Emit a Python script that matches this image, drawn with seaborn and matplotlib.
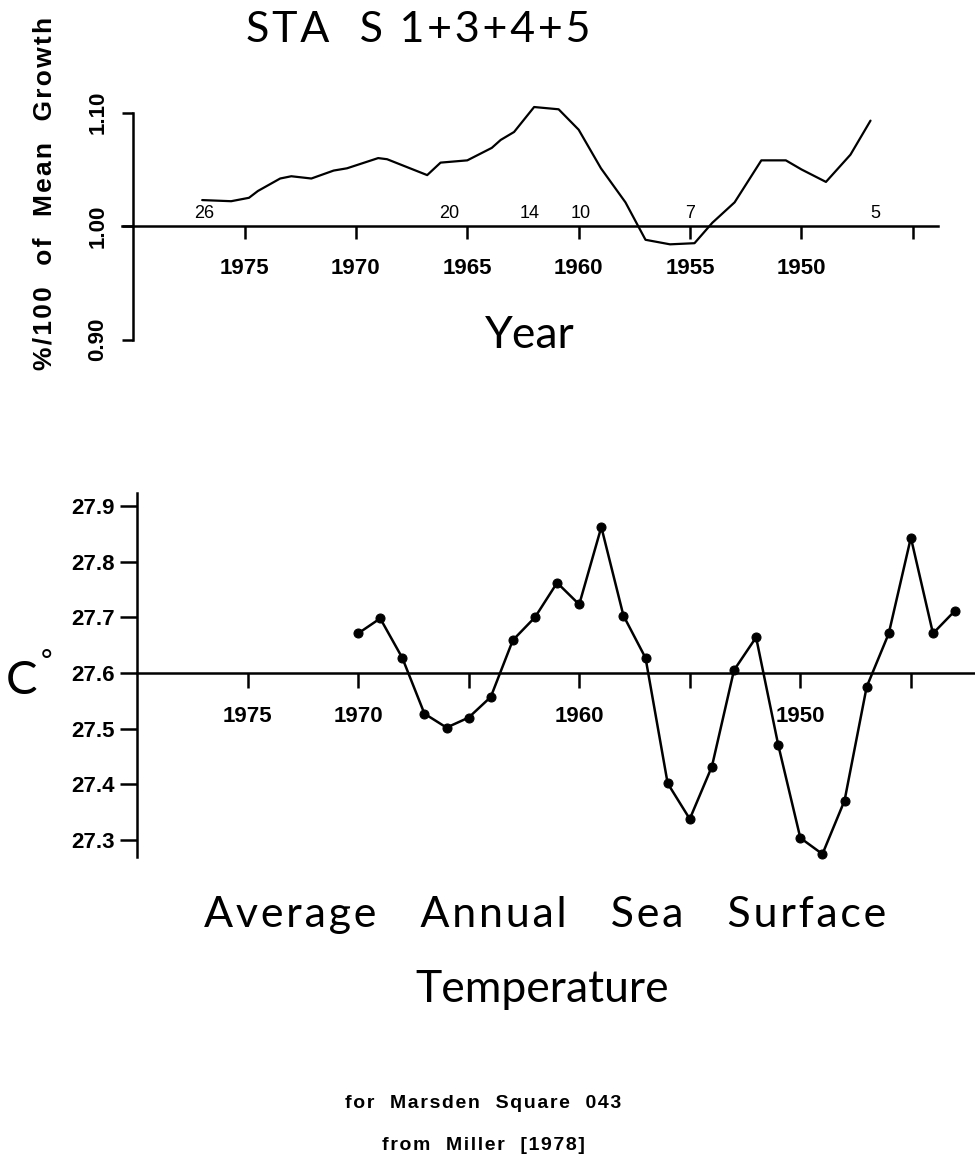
import numpy as np
import pandas as pd
import seaborn as sns
import matplotlib.pyplot as plt

# growth index (smoothed)
growth_year = [1976.9, 1975.6, 1974.8, 1974.4, 1973.4, 1972.9, 1972.0, 1971.0, 1970.4,
               1969.0, 1968.6, 1966.8, 1966.2, 1965.0, 1963.9, 1963.5, 1962.9, 1962.0,
               1960.9, 1960.0, 1959.0, 1957.9, 1957.0, 1955.9, 1954.8, 1954.0, 1953.0,
               1951.8, 1950.7, 1950.0, 1948.9, 1947.8, 1946.9]
growth_val = [1.023, 1.022, 1.025, 1.031, 1.042, 1.044, 1.042, 1.049, 1.051,
              1.060, 1.059, 1.045, 1.056, 1.058, 1.069, 1.076, 1.083, 1.105,
              1.103, 1.085, 1.051, 1.021, 0.988, 0.984, 0.985, 1.003, 1.021,
              1.058, 1.058, 1.050, 1.039, 1.063, 1.093]

# sample sizes written above the axis
n_year = [1976.8, 1965.8, 1962.2, 1959.9, 1955.0, 1946.7]
n_label = ["26", "20", "14", "10", "7", "5"]

# sea surface temperature, Marsden square 043
sst_year = list(range(1970, 1942, -1))
sst_val = [27.671, 27.698, 27.627, 27.527, 27.502, 27.520, 27.557, 27.659, 27.700,
           27.762, 27.723, 27.862, 27.703, 27.627, 27.402, 27.338, 27.432, 27.605,
           27.664, 27.471, 27.304, 27.275, 27.371, 27.575, 27.671, 27.843, 27.671,
           27.712]

top_ticks = [1975, 1970, 1965, 1960, 1955, 1950, 1945]
top_labels = ["1975", "1970", "1965", "1960", "1955", "1950", ""]
bot_ticks = [1975, 1970, 1965, 1960, 1955, 1950, 1945]
bot_labels = ["1975", "1970", "", "1960", "", "1950", ""]

growth = pd.DataFrame({"year": growth_year, "val": growth_val})
sst = pd.DataFrame({"year": sst_year, "val": sst_val})

sns.set_style("ticks")
plt.rcParams["font.family"] = ["Liberation Sans", "DejaVu Sans"]
plt.rcParams["text.color"] = "black"
plt.rcParams["xtick.color"] = "black"
plt.rcParams["ytick.color"] = "black"
plt.rcParams["axes.edgecolor"] = "black"
head = ["Lato", "DejaVu Sans"]


def spaced(s, gap="\u200a"):
    # old typeset look: a little air between the letters
    return gap.join(s)


fig = plt.figure(figsize=(9.75, 11.69), dpi=100)

# ---- upper panel
ax1 = fig.add_axes([122 / 975, 1 - 351 / 1169, 816 / 975, 261 / 1169])
sns.lineplot(data=growth, x="year", y="val", ax=ax1, color="black", lw=1.6, sort=False)
ax1.set_xlim(1980.5, 1943.87)
ax1.set_ylim(0.89, 1.12)
for s in ["top", "right"]:
    ax1.spines[s].set_visible(False)
ax1.spines["left"].set_position(("data", 1980))
ax1.spines["left"].set_bounds(0.90, 1.10)
ax1.spines["bottom"].set_position(("data", 1.0))
for s in ["left", "bottom"]:
    ax1.spines[s].set_linewidth(1.8)
ax1.set_xticks(top_ticks)
ax1.set_xticklabels(top_labels, fontsize=16, fontweight="bold")
ax1.tick_params(axis="x", direction="out", length=9, width=1.8, pad=14)
ax1.set_yticks([0.90, 1.00, 1.10])
ax1.set_yticklabels(["0.90", "1.00", "1.10"], fontsize=16, fontweight="bold",
                    rotation=90, va="center")
ax1.tick_params(axis="y", direction="out", length=8, width=1.8, pad=10)
ax1.set_xlabel("")
ax1.set_ylabel("")
for yr, lab in zip(n_year, n_label):
    ax1.text(yr, 1.0115, lab, ha="center", va="center", fontsize=13)

fig.text(418 / 975, 1 - 30 / 1169, spaced("STA  S 1+3+4+5"), ha="center", va="center",
         fontsize=31, family=head)
fig.text(530 / 975, 1 - 336 / 1169, "Year", ha="center", va="center",
         fontsize=32, family=head)
fig.text(45 / 975, 1 - 193 / 1169, spaced("%/100  of  Mean  Growth"),
         ha="center", va="center", rotation=90, fontsize=19, fontweight="bold")

# ---- lower panel
ax2 = fig.add_axes([137 / 975, 1 - 868 / 1169, 838 / 975, 390 / 1169])
sns.lineplot(data=sst, x="year", y="val", ax=ax2, color="black", lw=1.8,
             marker="o", markersize=6.5, markeredgecolor="black", sort=False)
ax2.set_xlim(1980, 1942.1)
ax2.set_ylim(27.25, 27.95)
for s in ["top", "right"]:
    ax2.spines[s].set_visible(False)
ax2.spines["left"].set_bounds(27.269, 27.923)
ax2.spines["bottom"].set_position(("data", 27.6))
for s in ["left", "bottom"]:
    ax2.spines[s].set_linewidth(1.8)
ax2.set_xticks(bot_ticks)
ax2.set_xticklabels(bot_labels, fontsize=16, fontweight="bold")
ax2.tick_params(axis="x", direction="out", length=11, width=1.8, pad=13)
yt = [27.3, 27.4, 27.5, 27.6, 27.7, 27.8, 27.9]
ax2.set_yticks(yt)
ax2.set_yticklabels([f"{v:.1f}" for v in yt], fontsize=16, fontweight="bold")
ax2.tick_params(axis="y", direction="out", length=12, width=1.8, pad=4)
ax2.set_xlabel("")
ax2.set_ylabel("")

fig.text(22 / 975, 1 - 681 / 1169, "C", ha="center", va="center",
         fontsize=34, family=head)
fig.text(47 / 975, 1 - 662 / 1169, "°", ha="center", va="center",
         fontsize=20, family=head)

fig.text(545 / 975, 1 - 915 / 1169, spaced("Average   Annual   Sea   Surface"),
         ha="center", va="center", fontsize=31, family=head)
fig.text(542 / 975, 1 - 990 / 1169, "Temperature", ha="center", va="center",
         fontsize=32, family=head)
fig.text(483 / 975, 1 - 1103 / 1169, spaced("for  Marsden  Square  043"),
         ha="center", va="center", fontsize=14, fontweight="bold")
fig.text(483 / 975, 1 - 1146 / 1169, spaced("from  Miller  [1978]"),
         ha="center", va="center", fontsize=14, fontweight="bold")

fig.savefig("out.png", dpi=100, facecolor="white")
